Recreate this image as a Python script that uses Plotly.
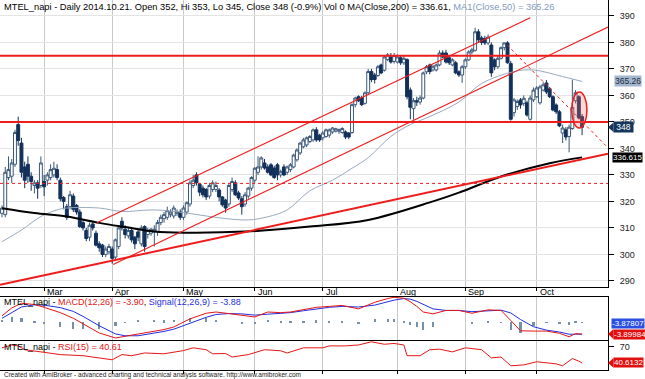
import pandas as pd
import plotly.graph_objects as go

# ---------------- data ----------------
dates = pd.bdate_range("2014-02-12", "2014-10-21")
bars = list(range(len(dates)))
month_labels = ["Mar", "Apr", "May", "Jun", "Jul", "Aug", "Sep", "Oct"]
month_starts = [i for i in range(1, len(dates)) if dates[i].month != dates[i - 1].month]
price_ticks = [290, 300, 310, 320, 330, 340, 350, 360, 370, 380, 390]

open_ = [315.5, 315, 329, 329.5, 334, 349, 342, 333, 334, 329.5, 326, 327, 326, 327.5, 328, 329, 330, 332, 328, 321.5,
         318, 318, 322, 318.5, 316, 312, 309, 306.5, 311.5, 308, 304, 303.5, 300, 301, 302, 299, 303, 312.5, 309.5, 307,
         309, 306.5, 308.5, 304, 310.5, 307.5, 308, 308.5, 308.5, 312, 313.5, 314, 315, 314.5, 315.5, 316, 314, 316, 319, 326,
         330, 326.5, 325, 324.5, 322, 324.5, 324.5, 324.3, 321.7, 320.5, 319, 324.5, 327, 323.2, 321, 319, 322, 325, 328, 331,
         333, 334.5, 333, 333.8, 332.6, 333.8, 330, 333, 331, 332, 333, 335.7, 338.3, 340.6, 341.3, 342.6, 343.2, 347, 345, 344,
         344.5, 345, 346.2, 346.5, 346.5, 346, 346.2, 345.8, 346, 356.5, 359.5, 359, 357, 361, 369, 367.7, 367.5, 371.5, 369.5, 373.5,
         374.5, 372.8, 372.6, 374.2, 372.3, 373.5, 362, 355, 358, 357.5, 359, 368.9, 371.5, 369.6, 369.6, 371.5, 376, 376, 374.2, 371.5,
         372.3, 368.9, 367.7, 370.8, 373.4, 376.4, 377, 384, 381.7, 381.5, 379.8, 379, 373.4, 370.8, 374, 378, 379.8, 372, 353.5, 355.8,
         358.3, 357, 357.2, 351, 358.3, 359.5, 357.2, 362, 364.7, 362.5, 359.5, 356.4, 353.8, 345.8, 347, 344.5, 347.5, 358, 359.5, 352]
high = [318.5, 333, 337, 336, 347, 352, 344, 335, 337, 331, 328, 328, 337, 330, 331, 334, 335, 334, 329, 322,
        319, 324, 323, 319, 317, 313, 310, 312, 312.5, 309, 305, 304, 303, 304, 303, 306, 311, 314, 311, 310,
        310, 307, 309.5, 311, 311, 310, 310, 311, 313, 315, 316, 318, 317, 318.5, 317, 317, 318.5, 320, 328, 330,
        331, 327, 326, 325, 327, 328, 327.5, 325, 322, 321, 327, 329, 328, 324, 322, 323.5, 325.5, 329.5, 333, 337,
        337, 336, 334, 334.5, 333.5, 334.5, 332, 334, 333.5, 334.5, 338, 340, 342.5, 344, 344.5, 345, 347.5, 348, 345.5, 346.5,
        347.5, 347.5, 348, 347.8, 347.5, 348, 346.8, 346.2, 357, 359.5, 360, 359.8, 361.5, 370, 370, 368.5, 371.5, 372, 375, 376,
        376, 376, 375.5, 375, 375, 374, 363, 359, 359.5, 360, 369, 371.5, 372, 371.5, 372, 377, 377, 377.2, 375, 374,
        373, 369.5, 371.5, 374, 377, 378, 385.5, 385, 382.5, 382.5, 383, 380, 374, 375, 378.5, 380, 380.5, 373, 359, 358.5,
        359, 360, 358, 360, 363, 363.5, 364, 365, 365.8, 363.2, 360, 357, 354.5, 349, 348, 349, 366, 362, 360, 353]
low = [314, 314, 328, 327, 333, 341, 329, 325, 327, 324, 323, 321, 325, 322, 326, 328, 329, 328, 320, 317,
       313, 317, 316, 315, 310, 309, 305, 305, 309, 303, 301, 299, 299, 300, 296.5, 298, 302, 309, 306, 306,
       304.5, 302, 305, 303, 301, 306, 307, 303, 307, 311, 312, 313, 314, 313.5, 314.5, 313, 313, 315, 318, 325,
       326, 322, 321.5, 320.5, 321, 323.5, 323.5, 320, 318, 315.7, 318, 323.5, 322, 320.5, 315, 318, 321, 324, 327, 330,
       332, 332, 330.5, 329.5, 328.5, 328, 329, 329.5, 330, 331, 332.5, 335, 337.5, 340, 340.5, 342, 342.5, 342.5, 342.5, 343,
       344, 344, 345.5, 346, 345.5, 345.5, 343.5, 343.5, 345.5, 355.5, 357.5, 356, 356.5, 360.5, 365, 364.5, 367, 368, 369, 373,
       372, 372, 372, 371.5, 371.5, 358.5, 351, 350.8, 356, 356.5, 358.5, 368, 368, 369, 369, 371, 374, 372, 371.5, 371,
       368, 367, 364.7, 370, 373, 375.5, 376.5, 380, 379, 379, 379, 367, 369.5, 370, 373.5, 377, 372, 350.5, 352, 354.5,
       355, 356, 352, 350.5, 357.5, 359, 356.5, 361.5, 360.5, 359, 354, 353, 348, 342, 343, 338.5, 347, 357, 351, 345]
close = [317.5, 331, 332, 334.5, 346, 343, 331, 328, 329.5, 327.5, 327, 325, 334.5, 325.5, 330, 332, 332.5, 329, 321, 320,
         314, 322.5, 317, 316, 310.5, 310, 306, 311, 310, 303.5, 302.5, 300, 302, 303, 298.5, 305.5, 310, 310, 307.5, 309,
         305.5, 304, 306.5, 310, 303, 309, 309.5, 309.5, 312, 314, 315, 316.5, 316, 317.5, 316, 314, 317.5, 319.5, 327, 328,
         327, 323.5, 322.5, 321.7, 326, 327, 326, 321.7, 318.7, 317.5, 326, 327.5, 322.5, 321.3, 318, 322.5, 325, 329, 332.5, 333,
         336.4, 332.6, 331, 330, 329, 330, 331.2, 330, 333, 333.8, 337.5, 339.4, 342, 343.2, 344, 344.5, 347, 343.2, 343.2, 345.8,
         347, 347, 347.7, 347.4, 347, 347.5, 344.3, 344.3, 356.5, 359, 358, 356.5, 361, 369, 366, 366, 370.8, 368.5, 374.5, 375.3,
         372.6, 375, 374.5, 372.3, 374, 359.5, 355.5, 358, 357.5, 359, 368.5, 370.8, 369, 370.8, 371.5, 376, 374.5, 372.6, 372.3, 373.4,
         368.5, 367.7, 370.8, 373.4, 376.4, 377.2, 384, 381, 380, 379.8, 382, 368.5, 370.8, 374, 378, 379.8, 372.3, 351, 358.3, 357.7,
         356.4, 358.9, 352.6, 359, 362, 362.8, 363.2, 364, 361.3, 359.5, 354.5, 353.8, 348.5, 347.7, 344.3, 348, 355.5, 361, 351.5, 348]

ma50_bars = [0, 6, 12, 17, 20, 30, 37, 47, 57, 67, 76, 82, 88, 95, 102, 108, 113, 120, 126, 131, 141, 148, 158, 164, 173, 179]
ma50_vals = [304.8, 309.2, 314.3, 316.8, 317.5, 317.5, 316.2, 316.8, 315.6, 313.8, 313.0, 314.2, 316.8, 324.0, 328.0, 332.5,
             336.5, 344.5, 349.0, 351.5, 357.5, 364.5, 369.0, 369.6, 367.1, 365.26]
ma200_bars = [0, 10, 20, 30, 38, 47, 57, 75, 95, 113, 133, 141, 154, 169, 179]
ma200_vals = [317.4, 315.6, 314.3, 311.9, 310.3, 308.6, 308.2, 308.6, 310.5, 313.0, 320.0, 323.3, 329.4, 334.4, 336.615]

# drawn lines (bar index, price)
support_bars, support_prices = [-0.6, 187.0], [288.5, 338.0]
chan_up_bars, chan_up_prices = [29.3, 163.0], [311.9, 389.3]
chan_lo_bars, chan_lo_prices = [34.3, 187.0], [296.2, 385.8]
down_bars, down_prices = [155.9, 187.0], [379.0, 340.2]
solid_levels = [375, 350]
dotted_levels = [326.8]
ellipse_bars = [175.8, 180.5]
ellipse_prices = [347.7, 361.3]

macd_bars = [0, 3, 6, 10, 13, 18, 22, 25, 30, 35, 38, 42, 47, 50, 53, 58, 63, 66, 70, 74, 78, 82, 86, 89, 93, 97, 101,
             105, 110, 115, 119, 121, 124, 126, 128, 130, 133, 137, 141, 145, 150, 154, 157, 160, 164, 168, 172, 175, 177, 179]
macd_vals = [2.0, 4.5, 6.0, 5.6, 4.7, 3.0, 1.2, -0.5, -3.5, -5.1, -4.6, -3.7, -2.9, -2.4, -1.6, 1.0, 2.8, 3.2, 2.7, 2.1,
             1.6, 3.2, 3.0, 3.2, 4.0, 4.7, 5.0, 5.3, 4.2, 6.3, 7.5, 7.9, 7.6, 6.5, 5.0, 3.2, 2.6, 3.7, 3.7, 2.8, 3.9, 3.7,
             0.5, -2.8, -2.9, -2.9, -3.6, -4.7, -3.7, -3.90]
signal_vals = [1.2, 3.0, 4.8, 5.5, 5.4, 4.6, 3.4, 1.8, -1.2, -3.8, -4.4, -4.4, -3.6, -3.0, -2.3, -0.3, 1.5, 2.4, 2.7, 2.6,
               2.2, 2.5, 2.8, 3.0, 3.6, 4.2, 4.7, 5.0, 4.8, 5.4, 6.5, 7.0, 7.5, 7.3, 6.6, 5.6, 4.2, 3.7, 3.7, 3.3, 3.6, 3.8,
               2.9, 0.8, -1.5, -2.6, -3.2, -3.9, -3.9, -3.88]

rsi_bars = [0, 3, 5, 7, 12, 18, 25, 31, 34, 37, 40, 44, 50, 56, 59, 63, 65, 69, 71, 76, 81, 86, 88, 93, 99, 101, 106, 110,
            114, 118, 121, 124, 125, 129, 132, 135, 139, 143, 148, 151, 154, 157, 161, 165, 168, 171, 173, 176, 178, 179]
rsi_vals = [68.5, 73.7, 72, 65, 61, 56, 54, 48.7, 46.5, 56, 54, 59, 57.5, 63.4, 68.5, 65, 57.5, 58, 51.6, 56, 65, 63, 59,
            68.5, 68.5, 72, 72, 73.7, 79.5, 75, 76.5, 73.7, 54, 54, 65, 66, 61, 68.5, 65, 50, 51.6, 35.5, 37, 42.8, 41, 39,
            35.5, 48.7, 44, 40.61]

# ---------------- figure ----------------
W, H = 645, 379
XR = 608 / W
FONT = "Liberation Sans, Arial, sans-serif"
RED = "#ee1c1c"

fig = go.Figure()

fig.add_trace(go.Candlestick(
    x=bars, open=open_, high=high, low=low, close=close, xaxis="x", yaxis="y",
    increasing=dict(line=dict(color="#3b5878", width=1), fillcolor="#ffffff"),
    decreasing=dict(line=dict(color="#12305a", width=1), fillcolor="#12305a"),
    whiskerwidth=0, showlegend=False, hoverinfo="skip"))

fig.add_trace(go.Scatter(x=ma50_bars, y=ma50_vals, mode="lines", line=dict(color="#98aac0", width=1, shape="spline"),
                         xaxis="x", yaxis="y", showlegend=False, hoverinfo="skip"))
fig.add_trace(go.Scatter(x=ma200_bars, y=ma200_vals, mode="lines", line=dict(color="#000000", width=2, shape="spline"),
                         xaxis="x", yaxis="y", showlegend=False, hoverinfo="skip"))

for lv in solid_levels:
    fig.add_trace(go.Scatter(x=[-0.62, 187.0], y=[lv, lv], mode="lines", line=dict(color=RED, width=2),
                             xaxis="x", yaxis="y", showlegend=False, hoverinfo="skip"))
for lv in dotted_levels:
    fig.add_trace(go.Scatter(x=[-0.62, 187.0], y=[lv, lv], mode="lines", line=dict(color=RED, width=1, dash="dot"),
                             xaxis="x", yaxis="y", showlegend=False, hoverinfo="skip"))

fig.add_trace(go.Scatter(x=support_bars, y=support_prices, mode="lines", line=dict(color=RED, width=2),
                         xaxis="x", yaxis="y", showlegend=False, hoverinfo="skip"))
for bx, pv in [(chan_up_bars, chan_up_prices), (chan_lo_bars, chan_lo_prices)]:
    fig.add_trace(go.Scatter(x=bx, y=pv, mode="lines", line=dict(color=RED, width=1.1),
                             xaxis="x", yaxis="y", showlegend=False, hoverinfo="skip"))
fig.add_trace(go.Scatter(x=down_bars, y=down_prices, mode="lines", line=dict(color=RED, width=1, dash="dot"),
                         xaxis="x", yaxis="y", showlegend=False, hoverinfo="skip"))

fig.add_shape(type="circle", xref="x", yref="y", x0=ellipse_bars[0], x1=ellipse_bars[1],
              y0=ellipse_prices[0], y1=ellipse_prices[1], line=dict(color=RED, width=1.5),
              fillcolor="rgba(250,110,110,0.28)", layer="above")

# MACD panel
hist_vals = [m - s for m, s in zip(macd_vals, signal_vals)]
fig.add_trace(go.Bar(x=macd_bars, y=hist_vals, marker=dict(color="#7690aa", line=dict(width=0)), width=0.7,
                     xaxis="x2", yaxis="y2", showlegend=False, hoverinfo="skip"))
fig.add_trace(go.Scatter(x=macd_bars, y=signal_vals, mode="lines", line=dict(color="#1f2ee0", width=1),
                         xaxis="x2", yaxis="y2", showlegend=False, hoverinfo="skip"))
fig.add_trace(go.Scatter(x=macd_bars, y=macd_vals, mode="lines", line=dict(color="#e51515", width=1),
                         xaxis="x2", yaxis="y2", showlegend=False, hoverinfo="skip"))

# RSI panel
fig.add_trace(go.Scatter(x=rsi_bars, y=rsi_vals, mode="lines", line=dict(color="#e51515", width=1),
                         xaxis="x3", yaxis="y3", showlegend=False, hoverinfo="skip"))


def py(px):
    return (H - px) / H


common_x = dict(range=[-0.62, 187.0], domain=[0, XR], tickvals=month_starts, showticklabels=False,
                ticks="outside", ticklen=3, tickcolor="#000", showgrid=True, gridcolor="#c9c9c9", gridwidth=1,
                zeroline=False, showline=True, linecolor="#000", linewidth=1, mirror=True, fixedrange=True)

fig.update_layout(
    width=W, height=H, margin=dict(l=0, r=0, t=0, b=0, autoexpand=False),
    paper_bgcolor="white", plot_bgcolor="white",
    font=dict(family=FONT, size=9, color="#000"),
    boxgap=0.1, boxgroupgap=0.0,
    xaxis=dict(common_x, anchor="y", rangeslider=dict(visible=False)),
    yaxis=dict(domain=[py(287), 1], range=[287.7, 396.0], side="right", tickvals=price_ticks,
               ticks="outside", ticklen=5, tickcolor="#000", tickfont=dict(size=9, color="#222"),
               ticklabelstandoff=4,
               showgrid=True, gridcolor="#e3e3e3", zeroline=False, showline=True, linecolor="#000",
               mirror=True, anchor="x", fixedrange=True),
    xaxis2=dict(common_x, anchor="y2", matches="x"),
    yaxis2=dict(domain=[py(340), py(297)], range=[-5.75, 8.0], side="right", showticklabels=False,
                ticks="", showgrid=False, zeroline=False, showline=True, linecolor="#000", mirror=True,
                anchor="x2", fixedrange=True),
    xaxis3=dict(common_x, anchor="y3", matches="x"),
    yaxis3=dict(domain=[py(370), py(341)], range=[27.7, 81.0], side="right", tickvals=[70],
                ticks="outside", ticklen=5, tickcolor="#000", tickfont=dict(size=9, color="#222"),
                ticklabelstandoff=4,
                showgrid=False, zeroline=False, showline=True, linecolor="#000", mirror=True,
                anchor="x3", fixedrange=True),
    bargap=0,
)

ann = []
ann.append(dict(xref="paper", yref="paper", x=0.003, y=py(7), xanchor="left", yanchor="middle", showarrow=False,
                text="MTEL_napi - Daily 2014.10.21. Open 352, Hi 353, Lo 345, Close 348 (-0.9%) Vol 0 "
                     "MA(Close,200) = 336.61, <span style='color:#7f9bbd'>MA1(Close,50) = 365.26</span>",
                font=dict(size=9.3, color="#000")))
for b, lab in zip(month_starts, month_labels):
    ann.append(dict(xref="x", yref="paper", x=b, y=py(291.5), xanchor="left", yanchor="middle", xshift=1,
                    showarrow=False, text=lab, font=dict(size=9, color="#000")))
ann.append(dict(xref="paper", yref="paper", x=0.003, y=py(302), xanchor="left", yanchor="middle", showarrow=False,
                text="MTEL_napi - <span style='color:#e51515'>MACD(12,26) = -3.90</span>, "
                     "<span style='color:#1f2ee0'>Signal(12,26,9) = -3.88</span>", font=dict(size=9)))
ann.append(dict(xref="paper", yref="paper", x=0.003, y=py(347), xanchor="left", yanchor="middle", showarrow=False,
                text="MTEL_napi - <span style='color:#e51515'>RSI(15) = 40.61</span>", font=dict(size=9)))
ann.append(dict(xref="paper", yref="paper", x=0.003, y=py(374.5), xanchor="left", yanchor="middle", showarrow=False,
                text="Created with AmiBroker - advanced charting and technical analysis software. http://www.amibroker.com",
                font=dict(size=6.5, color="#222")))
# value tags on the right scale
ann.append(dict(xref="paper", yref="y", x=614 / W, y=ma50_vals[-1], xanchor="left", yanchor="middle", showarrow=False,
                text="365.26", bgcolor="#a3b6cd", font=dict(size=8.5, color="#1b2b40"), borderpad=0))
ann.append(dict(xref="paper", yref="y", x=613 / W, y=close[-1], xanchor="left", yanchor="middle", showarrow=False,
                text=" 348 ", bgcolor="#17365d", font=dict(size=8.5, color="#fff"), borderpad=0))
ann.append(dict(xref="paper", yref="y", x=612 / W, y=ma200_vals[-1], xanchor="left", yanchor="middle", showarrow=False,
                text="336.615", bgcolor="#000", font=dict(size=8, color="#fff"), borderpad=0))
ann.append(dict(xref="paper", yref="paper", x=611 / W, y=py(323), xanchor="left", yanchor="middle", showarrow=False,
                text="-3.87807", bgcolor="#2b4fe0", font=dict(size=8, color="#fff"), borderpad=0))
ann.append(dict(xref="paper", yref="paper", x=613 / W, y=py(334), xanchor="left", yanchor="middle", showarrow=False,
                text="-3.89984", bgcolor="#e01010", font=dict(size=8, color="#fff"), borderpad=0))
ann.append(dict(xref="paper", yref="y3", x=613 / W, y=rsi_vals[-1], xanchor="left", yanchor="middle", showarrow=False,
                text="40.6132", bgcolor="#e01010", font=dict(size=8, color="#fff"), borderpad=0))
fig.update_layout(annotations=ann)

# small pointer triangles for the tags
fig.add_shape(type="path", xref="paper", yref="y",
              path=f"M {608/W},{close[-1]} L {613.5/W},{close[-1]+1.8} L {613.5/W},{close[-1]-1.8} Z",
              fillcolor="#17365d", line=dict(width=0))
fig.add_shape(type="path", xref="paper", yref="paper",
              path=f"M {608/W},{py(334)} L {613.5/W},{py(334)+0.013} L {613.5/W},{py(334)-0.013} Z",
              fillcolor="#e01010", line=dict(width=0))
fig.add_shape(type="path", xref="paper", yref="y3",
              path=f"M {608/W},{rsi_vals[-1]} L {613.5/W},{rsi_vals[-1]+9} L {613.5/W},{rsi_vals[-1]-9} Z",
              fillcolor="#e01010", line=dict(width=0))

fig.write_html("out.html", config={"displayModeBar": False},
               post_script="document.body.style.margin='0px';document.body.style.padding='0px';"
                           "document.documentElement.style.overflow='hidden';")
